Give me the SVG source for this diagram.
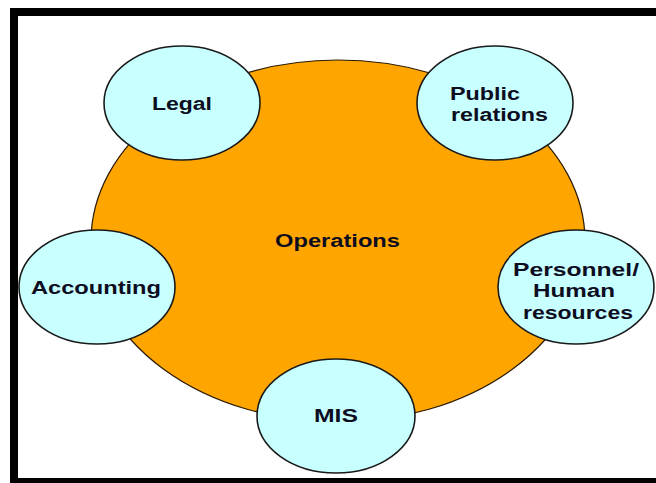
<svg xmlns="http://www.w3.org/2000/svg" width="656" height="483" viewBox="0 0 656 483">
  <style>
    .frame { fill: #000; }
    .core { fill: #FFA500; stroke: #2a1a00; stroke-width: 1.2; }
    .unit { fill: #C8FFFF; stroke: #1a1a1a; stroke-width: 1.6; }
    .label { font-family: "Liberation Sans", Arial, sans-serif; font-size: 18px; font-weight: bold; fill: #0d0d1f; }
  </style>

  <!-- white page with black frame (top, left, bottom bars) -->
  <rect x="0" y="0" width="656" height="483" fill="#fff"/>
  <rect class="frame" x="10" y="8" width="646" height="8"/>
  <rect class="frame" x="10" y="8" width="8" height="475"/>
  <rect class="frame" x="10" y="478" width="646" height="5"/>

  <!-- central function -->
  <g id="operations">
    <ellipse class="core" cx="338" cy="241" rx="247" ry="181"/>
    <text class="label" x="275" y="246.5" textLength="125" lengthAdjust="spacingAndGlyphs">Operations</text>
  </g>

  <!-- supporting functions around the core -->
  <g id="legal">
    <ellipse class="unit" cx="182" cy="103" rx="78" ry="57"/>
    <text class="label" x="152" y="109.5" textLength="60" lengthAdjust="spacingAndGlyphs">Legal</text>
  </g>

  <g id="public-relations">
    <ellipse class="unit" cx="495" cy="103" rx="78" ry="57"/>
    <text class="label" x="450" y="99.5" textLength="70" lengthAdjust="spacingAndGlyphs">Public</text>
    <text class="label" x="451" y="120.5" textLength="97" lengthAdjust="spacingAndGlyphs">relations</text>
  </g>

  <g id="accounting">
    <ellipse class="unit" cx="97" cy="287" rx="78" ry="57"/>
    <text class="label" x="31" y="294" textLength="130" lengthAdjust="spacingAndGlyphs">Accounting</text>
  </g>

  <g id="personnel">
    <ellipse class="unit" cx="576" cy="287" rx="78" ry="57"/>
    <text class="label" x="513" y="276" textLength="126" lengthAdjust="spacingAndGlyphs">Personnel/</text>
    <text class="label" x="533" y="297" textLength="82" lengthAdjust="spacingAndGlyphs">Human</text>
    <text class="label" x="523" y="318.5" textLength="110" lengthAdjust="spacingAndGlyphs">resources</text>
  </g>

  <g id="mis">
    <ellipse class="unit" cx="336" cy="416" rx="79" ry="57"/>
    <text class="label" x="314" y="421.5" textLength="44" lengthAdjust="spacingAndGlyphs">MIS</text>
  </g>
</svg>
